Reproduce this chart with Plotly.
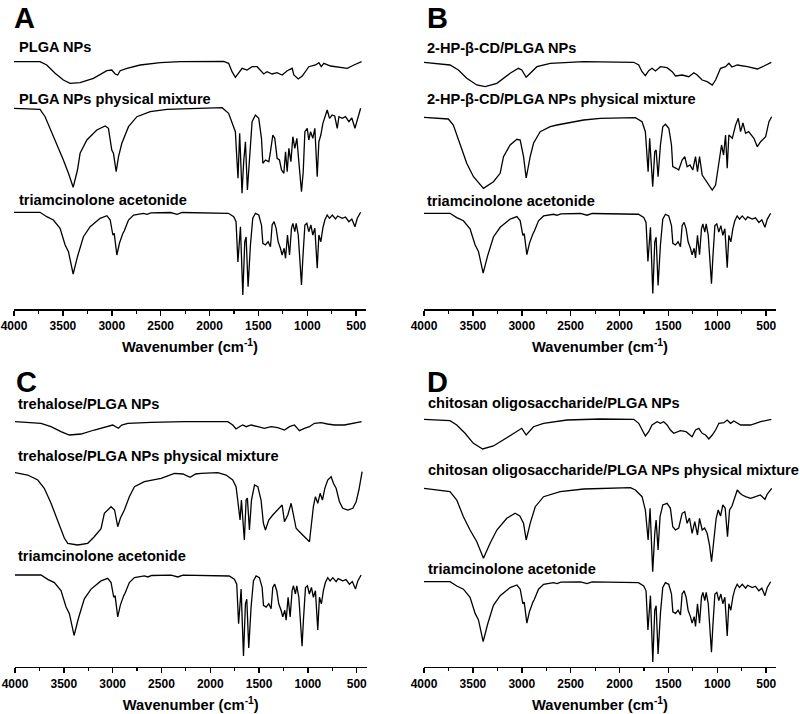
import plotly.graph_objects as go

# ---------------- data (wavenumber in cm-1, relative transmittance, baseline = 100) ----------------
ta_wn = [4000, 3734, 3665, 3597, 3529, 3477, 3443, 3395, 3351, 3290, 3221, 3119, 3050, 3016, 2989, 2975,
         2948, 2921, 2886, 2873, 2829, 2777, 2675, 2640, 2600, 2400, 2333, 2280, 1807, 1753, 1729, 1710,
         1684, 1660, 1640, 1626, 1606, 1582, 1558, 1531, 1497, 1469, 1455, 1428, 1401, 1377, 1360, 1340,
         1319, 1299, 1275, 1258, 1237, 1223, 1203, 1182, 1162, 1148, 1128, 1114, 1093, 1073, 1060, 1046,
         1025, 1005, 985, 964, 944, 923, 899, 882, 862, 841, 821, 797, 773, 745, 711, 690, 643, 610, 575,
         545, 513, 489, 455]
ta_t = [100, 100, 95.6, 92.3, 84, 67.3, 60.6, 38.3, 55.6, 75.6, 85.6, 94, 96.6, 92.3, 77.3, 79,
        57.3, 69.3, 79, 81.3, 92.3, 97.3, 99, 98, 99.5, 99.8, 98, 99.8, 99, 95.6, 90.6, 50.3,
        85.6, 17.3, 70.6, 75.3, 25.6, 67.3, 94, 99, 97.3, 87.3, 69, 67.3, 70.6, 65.6, 87.3, 90.6,
        84, 70.6, 64, 57.3, 64, 54, 77.3, 57.3, 84, 89, 80.6, 89, 77.3, 50.6, 27.3, 54,
        87.3, 89, 80.6, 87.3, 77.3, 84, 44, 77.3, 70.6, 84.3, 92.3, 97.3, 94, 97.3, 93.3, 96.3, 94, 95.3, 90.6,
        93.3, 85.6, 94, 100]

plga_np_wn = [4000, 3734, 3665, 3580, 3495, 3426, 3324, 3188, 3050, 3000, 2965, 2940, 2914, 2845, 2709,
              2504, 2299, 1856, 1805, 1770, 1736, 1702, 1667, 1616, 1565, 1513, 1480, 1446, 1412, 1360,
              1310, 1257, 1206, 1155, 1138, 1093, 1052, 1018, 985, 916, 882, 858, 831, 762, 694, 591, 524, 445]
plga_np_t = [100, 100, 96.7, 88.4, 81.7, 78.4, 79, 83.4, 91, 91.7, 87.7, 86.7, 91, 93.4, 96.7,
             99, 100, 100.4, 98.4, 90, 84.4, 88.4, 93.4, 91.7, 95, 95, 91.7, 87.7, 90, 87.7,
             89, 86.7, 91, 93.4, 86.7, 82.7, 85.7, 90, 95, 96.7, 99, 95, 98.4, 95.7, 95, 93.4, 96.7, 100]

plga_mix_wn = [4000, 3734, 3682, 3631, 3563, 3495, 3443, 3395, 3351, 3324, 3255, 3153, 3068, 3034, 3000,
               2983, 2955, 2931, 2897, 2829, 2743, 2607, 2436, 1958, 1872, 1805, 1764, 1736, 1719, 1709,
               1692, 1668, 1651, 1633, 1613, 1592, 1565, 1531, 1497, 1469, 1455, 1428, 1394, 1377, 1353,
               1333, 1309, 1285, 1264, 1240, 1223, 1206, 1189, 1168, 1148, 1128, 1107, 1087, 1070, 1060,
               1042, 1025, 1001, 985, 967, 944, 923, 899, 882, 862, 841, 821, 797, 773, 746, 720, 694,
               677, 643, 610, 575, 545, 513, 489, 455]
plga_mix_t = [100, 99, 91.6, 80, 65, 48.3, 35, 21, 38.3, 55, 68.3, 78.3, 82.3, 80, 58.3,
              55, 36.6, 51.6, 65, 81.6, 91.6, 96.6, 99, 100, 100.6, 95, 85, 76.6, 46.6, 30,
              75, 15, 46.6, 66.6, 18.3, 46.6, 86.6, 93.3, 90, 70, 45, 48.3, 46.6, 56.6, 73.3,
              70, 50, 48.3, 38.3, 35, 56.6, 36.6, 60, 46.6, 71.6, 60, 70, 46.6, 23.3, 16.6,
              36.6, 76.6, 80, 68.3, 76.6, 70, 80, 31.6, 66.6, 73.3, 85, 91.6, 98.3, 90, 93.3, 92.3, 80,
              91.6, 90, 91.6, 86.6, 90.3, 80, 88.3, 100]

hpcd_np_wn = [4000, 3734, 3648, 3563, 3460, 3375, 3255, 3119, 3034, 3000, 2955, 2914, 2845, 2709, 2367,
              1855, 1804, 1770, 1736, 1702, 1668, 1633, 1582, 1514, 1462, 1428, 1360, 1292, 1240, 1206,
              1155, 1104, 1052, 1018, 967, 916, 882, 850, 796, 693, 591, 523, 448]
hpcd_np_t = [100, 97.3, 92.3, 84, 77.3, 75.6, 79, 89, 94, 92.3, 85, 89, 95.6, 99, 100.6,
             100, 97.3, 90.6, 86.6, 91.6, 94, 91.3, 95.6, 94.6, 90.6, 86.3, 87.3, 85.6, 89.6, 87.3,
             82.3, 80.6, 77.3, 82.3, 94, 95.6, 99, 95.3, 97.3, 95.6, 93.3, 96.3, 100]

hpcd_mix_wn = [4000, 3751, 3700, 3631, 3563, 3494, 3392, 3290, 3221, 3187, 3119, 3050, 3016, 2982, 2955,
               2914, 2880, 2812, 2709, 2640, 2538, 2367, 2197, 1855, 1838, 1770, 1736, 1708, 1692, 1661,
               1640, 1626, 1606, 1582, 1558, 1531, 1496, 1469, 1456, 1421, 1395, 1360, 1333, 1309, 1280,
               1251, 1223, 1203, 1182, 1155, 1121, 1087, 1052, 1018, 984, 957, 936, 916, 899, 882, 847,
               813, 786, 762, 738, 711, 680, 626, 591, 557, 506, 472, 444]
hpcd_mix_t = [100, 98.3, 92.3, 74, 54, 40.6, 29, 35.6, 44, 60.6, 72.3, 78, 77.3, 60.6, 39.3,
              60.6, 74, 85.6, 90.6, 92.3, 94, 97.3, 99, 100, 99.6, 95.6, 85.6, 45.6, 79, 30.6,
              65.6, 67.3, 40.6, 72.3, 90.6, 93, 89, 72.3, 50.6, 49, 47.3, 57.3, 60.6, 50.6, 52.3,
              47.3, 60.6, 45.6, 60.6, 42.3, 37.3, 32.3, 27.3, 32.3, 55.6, 72.3, 62.3, 82.3, 49, 82.3, 79,
              92.3, 99, 85.6, 94.3, 84, 85.6, 79, 70.6, 75.6, 80.6, 95.6, 100.6]

treh_np_wn = [4000, 3734, 3631, 3529, 3443, 3324, 3188, 3050, 3000, 2941, 2907, 2845, 2607, 2265, 1821,
              1770, 1736, 1702, 1668, 1633, 1582, 1513, 1446, 1377, 1309, 1240, 1189, 1138, 1087, 1036,
              985, 933, 865, 800, 728, 626, 524, 450]
treh_np_t = [100, 98.4, 95, 90, 86.7, 87.7, 91.7, 95.7, 96.7, 93.4, 96.7, 98.4, 99.4, 100, 100,
             96.7, 92.7, 95, 96.7, 95, 96.7, 95, 93.4, 95, 94, 91.7, 95, 96.7, 91, 93.4,
             95, 98.4, 99, 97.7, 96.7, 96.7, 98.4, 100]

treh_mix_wn = [4000, 3870, 3767, 3700, 3631, 3563, 3495, 3460, 3358, 3255, 3188, 3119, 3085, 3016, 2980,
               2948, 2920, 2880, 2829, 2777, 2675, 2504, 2367, 2280, 2207, 2150, 2094, 1923, 1838, 1770,
               1736, 1719, 1695, 1681, 1651, 1633, 1620, 1599, 1578, 1547, 1513, 1480, 1456, 1435, 1401,
               1360, 1326, 1292, 1264, 1240, 1206, 1172, 1148, 1121, 1087, 1052, 1018, 984, 967, 944,
               923, 899, 875, 851, 827, 797, 762, 739, 711, 677, 643, 591, 540, 506, 478, 445]
treh_mix_t = [100, 97.7, 92.7, 84.4, 69.4, 52.7, 34.7, 29.4, 27.7, 29.4, 36, 44, 59.4, 66, 62.7,
              46, 54.7, 62.7, 76, 86, 91, 94.4, 99.4, 98.7, 95.4, 98.7, 99.4, 100, 97.7, 92.7,
              86, 72.7, 52.7, 72.7, 32.7, 72.7, 74.7, 42.7, 72.7, 87.7, 86, 72.7, 49.4, 42.7, 52.7,
              57.7, 61, 64.4, 67.7, 51, 57.7, 69.4, 56, 44.4, 41, 37.7, 34.4, 31, 46, 66,
              76, 69.4, 79.4, 72.7, 84.4, 92.7, 96, 89.4, 84.4, 71, 64.4, 62.7, 64.4, 71, 82.7, 101]

chit_np_wn = [4000, 3734, 3665, 3580, 3495, 3400, 3290, 3153, 3034, 3000, 2955, 2920, 2880, 2777, 2538,
              2197, 1855, 1804, 1770, 1736, 1702, 1668, 1616, 1582, 1548, 1514, 1480, 1446, 1377, 1320,
              1258, 1223, 1189, 1155, 1120, 1087, 1052, 1018, 984, 933, 899, 865, 831, 762, 660, 557, 448]
chit_np_t = [100, 98.6, 94.3, 86, 76, 70.3, 73.3, 82, 89.3, 91, 84.3, 88.3, 92.6, 96, 99.3,
             100.3, 100, 96, 89.3, 83.3, 87.6, 94.3, 97.6, 96, 97.6, 94.3, 89.3, 86, 88.6, 87.6,
             82.6, 89.3, 91, 86, 84.3, 80.3, 84.3, 89.3, 96, 96.6, 99.3, 96, 98.3, 94.3, 94.3, 97.6, 100]

chit_mix_wn = [4000, 3734, 3665, 3597, 3529, 3460, 3392, 3324, 3255, 3153, 3068, 3020, 2982, 2955, 2914,
               2862, 2777, 2607, 2367, 1889, 1838, 1770, 1736, 1708, 1688, 1661, 1640, 1626, 1606, 1586,
               1558, 1514, 1480, 1456, 1428, 1395, 1360, 1333, 1309, 1285, 1258, 1231, 1203, 1182, 1155,
               1130, 1104, 1080, 1059, 1039, 1012, 991, 967, 944, 920, 896, 875, 850, 821, 796, 770,
               745, 711, 660, 609, 560, 513, 489, 444]
chit_mix_t = [100, 96.6, 88.3, 71.6, 58.3, 46.6, 30, 45, 58.3, 70, 75, 72.3, 65, 48.3, 65,
              81.6, 91.6, 96.6, 99.3, 100.6, 98.3, 91.6, 78.3, 48.3, 80, 16.6, 55, 68.3, 38.3, 71.6,
              83.3, 85, 80, 61.6, 58.3, 60.3, 75, 76.6, 65, 70.3, 55, 66.6, 53.3, 70, 58.3,
              60.3, 55, 43.3, 26.6, 45, 70, 78.3, 72.3, 83.3, 80.3, 51.6, 78.3, 82.3, 91.6, 98.3, 95.3,
              93.3, 91.6, 90, 91.6, 93.3, 89, 94.3, 100]

panel_letters = ["A", "B", "C", "D"]
spectrum_labels = [
    ["PLGA NPs", "PLGA NPs physical mixture", "triamcinolone acetonide"],
    ["2-HP-β-CD/PLGA NPs", "2-HP-β-CD/PLGA NPs physical mixture", "triamcinolone acetonide"],
    ["trehalose/PLGA NPs", "trehalose/PLGA NPs physical mixture", "triamcinolone acetonide"],
    ["chitosan oligosaccharide/PLGA NPs", "chitosan oligosaccharide/PLGA NPs physical mixture",
     "triamcinolone acetonide"],
]
x_tick_vals = [4000, 3500, 3000, 2500, 2000, 1500, 1000, 500]
x_tick_text = ["4000", "3500", "3000", "2500", "2000", "1500", "1000", "500"]

# ---------------- layout geometry (pixels) ----------------
W, H = 800, 714
panel_spectra = [
    [(plga_np_wn, plga_np_t), (plga_mix_wn, plga_mix_t), (ta_wn, ta_t)],
    [(hpcd_np_wn, hpcd_np_t), (hpcd_mix_wn, hpcd_mix_t), (ta_wn, ta_t)],
    [(treh_np_wn, treh_np_t), (treh_mix_wn, treh_mix_t), (ta_wn, ta_t)],
    [(chit_np_wn, chit_np_t), (chit_mix_wn, chit_mix_t), (ta_wn, ta_t)],
]
# baseline heights above axis (px) and vertical scale per spectrum
offsets = [[247.3, 200.7, 96.7], [246.7, 191.7, 95.7], [245.0, 194.0, 91.7], [247.4, 178.4, 85.0]]
scales = [[1, 1, 1.0], [1, 1, 0.97], [1, 1, 0.98], [1, 1, 0.97]]
# panel pixel boxes: x0, x1, axis_y, top_y
boxes = [(14, 366, 309, 30), (424, 776, 309, 30), (15, 366.5, 666.7, 388), (424, 776, 666.7, 388)]
letter_pos = [(12, 0), (425, 0), (14, 364), (425, 364)]
label_pos = [
    [(17, 47.5), (17, 99), (17, 200)],
    [(425, 48.5), (425, 99.5), (425, 200.5)],
    [(16, 404), (16, 456.5), (16, 556)],
    [(426, 403), (426, 469.5), (426, 569)],
]

fig = go.Figure()
annotations = []
layout = dict(
    width=W, height=H, margin=dict(l=0, r=0, t=0, b=0, autoexpand=False),
    paper_bgcolor="white", plot_bgcolor="white", showlegend=False,
    font=dict(family="Liberation Sans, Arial, sans-serif", color="black"),
)

for i in range(4):
    n = "" if i == 0 else str(i + 1)
    x0, x1, ay, ty = boxes[i]
    h = ay - ty
    for j, (wn, tt) in enumerate(panel_spectra[i]):
        off, s = offsets[i][j], scales[i][j]
        fig.add_trace(go.Scatter(
            x=wn, y=[off + (t - 100) * s for t in tt], mode="lines",
            line=dict(color="black", width=1.3), xaxis="x" + n, yaxis="y" + n,
            hoverinfo="skip"))
    layout["xaxis" + n] = dict(
        domain=[x0 / W, x1 / W], range=[4000, 400], anchor="y" + n, automargin=False,
        tickmode="array", tickvals=x_tick_vals, ticktext=x_tick_text,
        showline=True, linecolor="black", linewidth=1.5, mirror=False,
        ticks="outside", ticklen=5, tickwidth=1.5, tickcolor="black",
        minor=dict(ticks="outside", ticklen=3, tickwidth=1.2, tickcolor="black", dtick=250, tick0=0),
        showgrid=False, zeroline=False,
        tickfont=dict(size=12, weight="bold", color="black"),
        title=dict(text="Wavenumber (cm<sup>-1</sup>)", font=dict(size=14.7, weight="bold"), standoff=10),
    )
    layout["yaxis" + n] = dict(
        domain=[1 - ay / H, 1 - ty / H], range=[0, h], anchor="x" + n, visible=False, automargin=False)
    lx, ly = letter_pos[i]
    annotations.append(dict(text="<b>" + panel_letters[i] + "</b>", x=lx / W, y=1 - ly / H,
                            xref="paper", yref="paper", xanchor="left", yanchor="top",
                            showarrow=False, font=dict(size=29, color="black")))
    for j, lab in enumerate(spectrum_labels[i]):
        px, py = label_pos[i][j]
        annotations.append(dict(text="<b>" + lab + "</b>", x=px / W, y=1 - py / H,
                                xref="paper", yref="paper", xanchor="left", yanchor="middle",
                                showarrow=False, font=dict(size=14.6, color="black")))

layout["annotations"] = annotations
fig.update_layout(**layout)
fig.write_html("out.html", config={"displayModeBar": False, "staticPlot": True},
               post_script="document.body.style.margin='0';")
